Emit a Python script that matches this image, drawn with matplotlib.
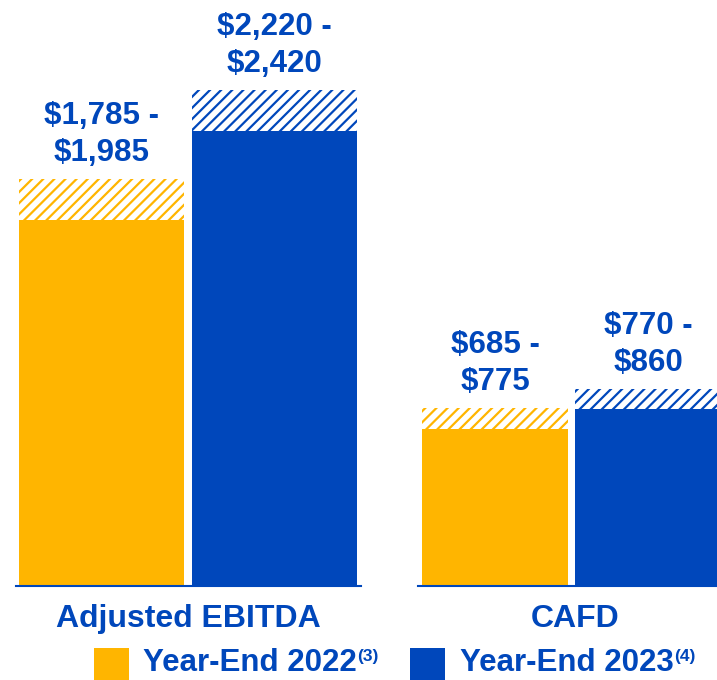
import matplotlib
matplotlib.use("Agg")
import matplotlib.pyplot as plt
from matplotlib.patches import Rectangle

plt.rcParams['font.family'] = ['Liberation Sans', 'DejaVu Sans']
plt.rcParams['hatch.linewidth'] = 1.6

GOLD = '#FFB500'
BLUE = '#0047BB'

# guidance ranges ($M): low / high
series = ['Year-End 2022', 'Year-End 2023']
notes = ['(3)', '(4)']
ebitda_low = [1785, 2220]
ebitda_high = [1985, 2420]
cafd_low = [685, 770]
cafd_high = [775, 860]
colors = [GOLD, BLUE]

fig = plt.figure(figsize=(7.17, 6.8), dpi=100)

def panel(rect, low, high, ylim_top, width, xlim):
    ax = fig.add_axes(rect)
    for i in range(2):
        ax.bar(i, low[i], width=width, color=colors[i], linewidth=0)
        ax.bar(i, high[i] - low[i], bottom=low[i], width=width, facecolor='white',
               edgecolor=colors[i], hatch='///', linewidth=0)
        ax.annotate(f"${low[i]:,} -\n${high[i]:,}", (i, high[i]), xytext=(0, 8),
                    textcoords='offset points', ha='center', va='bottom',
                    fontsize=22.5, fontweight='bold', color=BLUE, linespacing=1.3)
    ax.set_xlim(*xlim)
    ax.set_ylim(0, ylim_top)
    for s in ['top', 'left', 'right']:
        ax.spines[s].set_visible(False)
    ax.spines['bottom'].set_color(BLUE)
    ax.spines['bottom'].set_linewidth(1.5)
    ax.set_xticks([])
    ax.set_yticks([])
    ax.patch.set_visible(False)
    return ax

W, H = 717, 680
ax1 = panel([16 / W, 94 / H, 345 / W, 586 / H], ebitda_low, ebitda_high,
            586 / 0.205, 165 / 173, (-0.494, -0.494 + 345 / 173))
ax2 = panel([418 / W, 94 / H, 299 / W, 586 / H], cafd_low, cafd_high,
            586 / 0.2295, 146 / 153, (-0.503, -0.503 + 299 / 153))

fig.text(188 / W, 1 - 619 / H, 'Adjusted EBITDA', ha='center', va='center',
         fontsize=23, fontweight='bold', color=BLUE)
fig.text(575 / W, 1 - 619 / H, 'CAFD', ha='center', va='center',
         fontsize=23, fontweight='bold', color=BLUE)

# legend
sq_x = [94, 410]
tx_x = [143, 460]
fig.canvas.draw()
r = fig.canvas.get_renderer()
for i in range(2):
    fig.patches.append(Rectangle((sq_x[i] / W, 0), 35 / W, 32 / H, transform=fig.transFigure,
                                 facecolor=colors[i], edgecolor='none'))
    t = fig.text(tx_x[i] / W, 1 - 663 / H, series[i], ha='left', va='center',
                 fontsize=22.5, fontweight='bold', color=BLUE)
    bb = t.get_window_extent(r)
    fig.text(bb.x1 / W, 1 - 656 / H, notes[i], ha='left', va='center',
             fontsize=12.5, fontweight='bold', color=BLUE)

fig.savefig('out.png', dpi=100)
